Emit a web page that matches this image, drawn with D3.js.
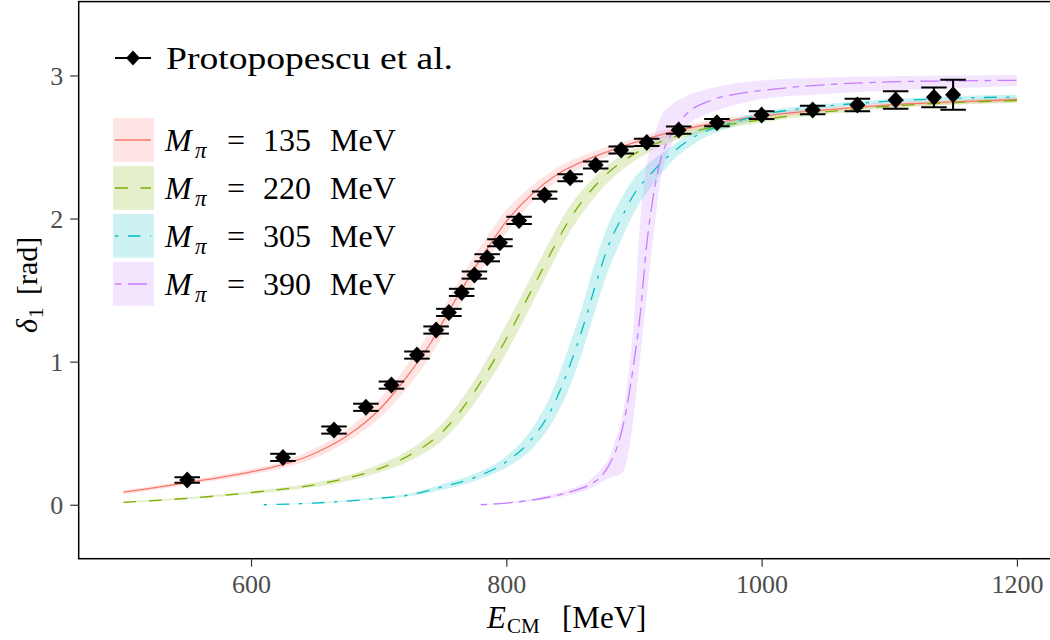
<!DOCTYPE html>
<html><head><meta charset="utf-8">
<script src="https://cdn.jsdelivr.net/npm/d3@7"></script>
<style>body{margin:0;background:#fff;} svg{display:block;}</style>
</head><body>
<svg id="c" width="1050" height="640"></svg>
<script>
// ---- data ----
const xTicks = [600, 800, 1000, 1200];
const yTicks = [0, 1, 2, 3];

// Protopopescu et al. data
const expE   = [550, 625, 665, 690, 710, 730, 745, 755, 765, 775, 785, 795, 810, 830, 850, 870, 890, 910, 935, 965, 1000, 1040, 1075, 1105, 1135, 1150];
const expD   = [0.173, 0.331, 0.522, 0.681, 0.836, 1.046, 1.221, 1.344, 1.484, 1.605, 1.726, 1.831, 1.987, 2.164, 2.285, 2.374, 2.479, 2.532, 2.618, 2.670, 2.723, 2.758, 2.793, 2.828, 2.847, 2.865];
const expErr = [0.02, 0.025, 0.025, 0.025, 0.025, 0.025, 0.025, 0.025, 0.025, 0.025, 0.025, 0.025, 0.025, 0.025, 0.025, 0.025, 0.025, 0.025, 0.025, 0.025, 0.027, 0.03, 0.044, 0.061, 0.069, 0.105];

// M_pi = 135 MeV
const e135  = [500, 525, 550, 575, 600, 625, 650, 675, 700, 720, 740, 760, 780, 800, 820, 840, 860, 880, 900, 925, 950, 1000, 1050, 1100, 1150, 1200];
const d135  = [0.088, 0.12, 0.155, 0.19, 0.23, 0.28, 0.36, 0.48, 0.66, 0.87, 1.12, 1.43, 1.72, 1.98, 2.17, 2.31, 2.40, 2.47, 2.53, 2.595, 2.645, 2.715, 2.76, 2.795, 2.815, 2.83];
const lo135 = [0.075, 0.105, 0.14, 0.172, 0.21, 0.257, 0.325, 0.44, 0.60, 0.79, 1.03, 1.34, 1.63, 1.90, 2.11, 2.26, 2.36, 2.435, 2.50, 2.57, 2.62, 2.695, 2.742, 2.778, 2.80, 2.815];
const hi135 = [0.100, 0.135, 0.17, 0.208, 0.25, 0.303, 0.395, 0.525, 0.73, 0.95, 1.21, 1.52, 1.81, 2.06, 2.23, 2.355, 2.44, 2.505, 2.56, 2.62, 2.67, 2.735, 2.778, 2.812, 2.83, 2.845];

// M_pi = 220 MeV
const e220  = [500, 550, 600, 650, 675, 700, 725, 750, 775, 800, 825, 850, 875, 900, 925, 950, 1000, 1050, 1100, 1150, 1200];
const d220  = [0.017, 0.045, 0.085, 0.14, 0.185, 0.25, 0.35, 0.51, 0.79, 1.16, 1.59, 2.00, 2.28, 2.45, 2.55, 2.615, 2.69, 2.745, 2.785, 2.81, 2.825];
const lo220 = [0.012, 0.038, 0.075, 0.125, 0.165, 0.225, 0.31, 0.45, 0.71, 1.06, 1.49, 1.91, 2.21, 2.40, 2.52, 2.59, 2.67, 2.728, 2.77, 2.795, 2.81];
const hi220 = [0.022, 0.052, 0.095, 0.155, 0.205, 0.28, 0.39, 0.57, 0.87, 1.26, 1.69, 2.09, 2.34, 2.49, 2.58, 2.64, 2.71, 2.762, 2.80, 2.825, 2.84];

// M_pi = 305 MeV
const e305  = [610, 650, 700, 725, 750, 775, 800, 820, 835, 850, 860, 870, 880, 890, 900, 915, 930, 950, 975, 1000, 1050, 1100, 1150, 1200];
const d305  = [0.0, 0.012, 0.045, 0.07, 0.125, 0.19, 0.30, 0.46, 0.66, 0.98, 1.24, 1.54, 1.81, 2.00, 2.17, 2.33, 2.46, 2.585, 2.665, 2.725, 2.785, 2.82, 2.84, 2.85];
const lo305 = [0.0, 0.008, 0.038, 0.06, 0.105, 0.165, 0.26, 0.39, 0.56, 0.83, 1.08, 1.37, 1.64, 1.85, 2.04, 2.24, 2.40, 2.54, 2.635, 2.70, 2.768, 2.805, 2.825, 2.835];
const hi305 = [0.0, 0.016, 0.052, 0.08, 0.145, 0.215, 0.34, 0.53, 0.77, 1.13, 1.40, 1.71, 1.96, 2.14, 2.28, 2.41, 2.51, 2.62, 2.69, 2.745, 2.80, 2.835, 2.855, 2.865];

// M_pi = 390 MeV
const e390  = [780, 800, 825, 850, 865, 875, 880, 885, 890, 895, 900, 905, 910, 915, 920, 930, 940, 960, 980, 1000, 1050, 1100, 1150, 1200];
const d390  = [0.0, 0.012, 0.04, 0.09, 0.14, 0.205, 0.27, 0.36, 0.50, 0.71, 1.00, 1.34, 1.82, 2.15, 2.38, 2.60, 2.72, 2.825, 2.87, 2.895, 2.935, 2.955, 2.962, 2.966];
const lo390 = [0.0, 0.008, 0.03, 0.07, 0.11, 0.16, 0.185, 0.20, 0.215, 0.33, 0.63, 1.04, 1.45, 1.85, 2.22, 2.53, 2.64, 2.74, 2.795, 2.835, 2.87, 2.895, 2.91, 2.926];
const hi390 = [0.0, 0.016, 0.05, 0.11, 0.17, 0.26, 0.32, 0.44, 0.58, 0.86, 1.30, 2.00, 2.38, 2.55, 2.69, 2.80, 2.85, 2.91, 2.945, 2.965, 2.985, 2.995, 3.0, 3.003];

const seriesLabels = ["135", "220", "305", "390"];
const seriesColors = ["#F8766D", "#7CAE00", "#00BFC4", "#C77CFF"];
const seriesDash   = [null, "12.8,12.8", "3.2,9.6,12.8,9.6", "6.4,6.4,19.2,6.4"];

const series = [
  {E: e135, mid: d135, lo: lo135, hi: hi135},
  {E: e220, mid: d220, lo: lo220, hi: hi220},
  {E: e305, mid: d305, lo: lo305, hi: hi305},
  {E: e390, mid: d390, lo: lo390, hi: hi390}
].map((s, i) => ({...s, label: seriesLabels[i], color: seriesColors[i], dash: seriesDash[i],
  pts: s.E.map((e, j) => ({e, m: s.mid[j], lo: s.lo[j], hi: s.hi[j]}))}));

// ---- layout ----
const L = 78.7, T = 1.6, B = 558.7;
const x = d3.scaleLinear().domain([465, 1235]).range([L, 1061.6]);
const y = d3.scaleLinear().domain([-0.377, 3.516]).range([B, T]);
const R = x.range()[1];

const svg = d3.select("#c");
const FONT = "'Liberation Serif', 'Times New Roman', serif";

svg.append("defs").append("clipPath").attr("id", "clip")
  .append("rect").attr("x", L).attr("y", T).attr("width", R - L).attr("height", B - T);

const plot = svg.append("g").attr("clip-path", "url(#clip)");

// bands
const area = d3.area().x(d => x(d.e)).y0(d => y(d.lo)).y1(d => y(d.hi)).curve(d3.curveMonotoneX);
series.forEach(s => {
  plot.append("path").attr("d", area(s.pts)).attr("fill", s.color).attr("fill-opacity", 0.2).attr("stroke", "none");
});
// lines
const line = d3.line().x(d => x(d.e)).y(d => y(d.m)).curve(d3.curveMonotoneX);
series.forEach(s => {
  const p = plot.append("path").attr("d", line(s.pts)).attr("fill", "none")
    .attr("stroke", s.color).attr("stroke-width", 1.3);
  if (s.dash) p.attr("stroke-dasharray", s.dash);
});

// error bars
const capHalf = 10; // MeV
const eb = plot.append("g").attr("stroke", "#000").attr("stroke-width", 2);
expE.forEach((e, i) => {
  const d = expD[i], er = expErr[i];
  eb.append("line").attr("x1", x(e)).attr("x2", x(e)).attr("y1", y(d - er)).attr("y2", y(d + er));
  eb.append("line").attr("x1", x(e - capHalf)).attr("x2", x(e + capHalf)).attr("y1", y(d - er)).attr("y2", y(d - er));
  eb.append("line").attr("x1", x(e - capHalf)).attr("x2", x(e + capHalf)).attr("y1", y(d + er)).attr("y2", y(d + er));
});
// diamonds
const diamond = (cx, cy, w, h) => `M${cx},${cy - h}L${cx + w},${cy}L${cx},${cy + h}L${cx - w},${cy}Z`;
expE.forEach((e, i) => {
  plot.append("path").attr("d", diamond(x(e), y(expD[i]), 8, 8.5)).attr("fill", "#000");
});

// border
svg.append("rect").attr("x", L).attr("y", T).attr("width", R - L + 10).attr("height", B - T)
  .attr("fill", "none").attr("stroke", "#000").attr("stroke-width", 1.5);

// axes
const yAxis = svg.append("g").attr("transform", `translate(${L},0)`)
  .call(d3.axisLeft(y).tickValues(yTicks).tickSize(8.5).tickPadding(7).tickFormat(d3.format("d")));
const xAxis = svg.append("g").attr("transform", `translate(0,${B})`)
  .call(d3.axisBottom(x).tickValues(xTicks).tickSize(8).tickPadding(8).tickFormat(d3.format("d")));
[yAxis, xAxis].forEach(a => {
  a.select(".domain").remove();
  a.selectAll(".tick line").attr("stroke", "#333").attr("stroke-width", 1.2);
  a.selectAll(".tick text").attr("fill", "#4D4D4D").style("font-family", FONT).style("font-size", "26px");
});
yAxis.selectAll(".tick text").attr("dy", "0.34em");
xAxis.selectAll(".tick text").attr("y", 34).attr("dy", 0);

// axis titles
const xt = svg.append("text").attr("y", 628).style("font-family", FONT).attr("fill", "#000");
xt.append("tspan").attr("x", 487).style("font-style", "italic").style("font-size", "31px").text("E");
xt.append("tspan").attr("x", 507).attr("dy", 5).style("font-size", "21px").text("CM");
xt.append("tspan").attr("x", 562).attr("dy", -5).style("font-size", "31px").text("[MeV]");

const yt = svg.append("text").attr("transform", "translate(37,333) rotate(-90)")
  .style("font-family", FONT).attr("fill", "#000");
yt.append("tspan").attr("x", 0).style("font-style", "italic").style("font-size", "30px").text("δ");
yt.append("tspan").attr("x", 15).attr("dy", 6).style("font-size", "21px").text("1");
yt.append("tspan").attr("x", 38).attr("dy", -6).style("font-size", "30px").text("[rad]");

// legend: data
const lg = svg.append("g");
lg.append("line").attr("x1", 115).attr("x2", 151).attr("y1", 58).attr("y2", 58)
  .attr("stroke", "#000").attr("stroke-width", 1.8);
lg.append("path").attr("d", diamond(133, 58, 7, 7.5)).attr("fill", "#000");
lg.append("text").attr("x", 166).attr("y", 69).attr("textLength", 287).attr("lengthAdjust", "spacingAndGlyphs")
  .style("font-family", FONT).style("font-size", "32px").attr("fill", "#000").text("Protopopescu et al.");

// legend: theory
series.forEach((s, i) => {
  const cy = 140 + i * 48;
  lg.append("rect").attr("x", 113).attr("y", cy - 22).attr("width", 41).attr("height", 43.7)
    .attr("fill", s.color).attr("fill-opacity", 0.2);
  const l = lg.append("line").attr("x1", 115).attr("x2", 151).attr("y1", cy).attr("y2", cy)
    .attr("stroke", s.color).attr("stroke-width", 1.3);
  if (s.dash) l.attr("stroke-dasharray", s.dash);
  const t = lg.append("text").attr("y", cy + 11).style("font-family", FONT).style("font-size", "32px").attr("fill", "#000");
  t.append("tspan").attr("x", 165).style("font-style", "italic").text("M");
  t.append("tspan").attr("x", 195).attr("dy", 7).style("font-style", "italic").style("font-size", "23px").text("π");
  t.append("tspan").attr("x", 227).attr("dy", -7).text("=");
  t.append("tspan").attr("x", 263).text(s.label);
  t.append("tspan").attr("x", 330).text("MeV");
});
</script>
</body></html>
